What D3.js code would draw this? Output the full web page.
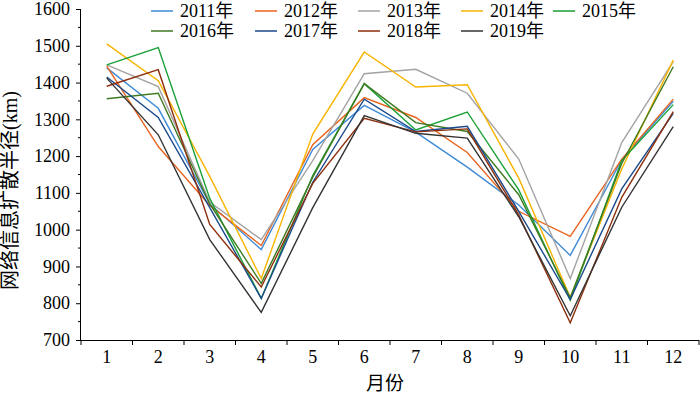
<!DOCTYPE html>
<html><head><meta charset="utf-8">
<script src="https://cdn.jsdelivr.net/npm/d3@7"></script>
<style>
body{margin:0;background:#fff;}
text{font-family:"Liberation Serif","Times New Roman","Noto Sans CJK SC",serif;fill:#000;}
</style></head>
<body><svg id="c" width="700" height="396"></svg>
<script>
const months = ["1","2","3","4","5","6","7","8","9","10","11","12"];
const yTicks = [700,800,900,1000,1100,1200,1300,1400,1500,1600];
const seriesNames = ["2011年","2012年","2013年","2014年","2015年","2016年","2017年","2018年","2019年"];
const colors = ["#3f8ad6","#e8641e","#a3a3a3","#f8b400","#17a035","#3e7a22","#1b4a8c","#8e2f0c","#333333"];
const v2011 = [1440,1330,1070,946,1218,1338,1265,1170,1067,930,1190,1349];
const v2012 = [1445,1226,1066,957,1231,1359,1305,1210,1050,982,1192,1355];
const v2013 = [1448,1389,1075,973,1188,1424,1436,1371,1192,867,1237,1457];
const v2014 = [1505,1405,1145,867,1260,1483,1388,1394,1140,816,1165,1461];
const v2015 = [1448,1495,1085,813,1147,1397,1271,1320,1108,808,1188,1340];
const v2016 = [1356,1371,1070,854,1143,1397,1291,1267,1095,815,1180,1443];
const v2017 = [1415,1305,1060,813,1129,1355,1267,1281,1050,810,1111,1316];
const v2018 = [1390,1435,1014,844,1126,1303,1266,1274,1040,747,1088,1321];
const v2019 = [1412,1258,973,775,1060,1310,1262,1249,1035,766,1061,1280];
const allValues = [v2011,v2012,v2013,v2014,v2015,v2016,v2017,v2018,v2019];

const svg = d3.select("#c");
const L=81, R=699, T=9, B=340;
const x = d3.scaleBand().domain(months).range([L,R]);
const y = d3.scaleLinear().domain([700,1600]).range([B,T]);

// lines
const line = d3.line().x((d,i)=>x(months[i])+x.bandwidth()/2).y(d=>y(d));
allValues.forEach((vals,k)=>{
  svg.append("path").datum(vals).attr("d",line).attr("fill","none")
    .attr("stroke",colors[k]).attr("stroke-width",1.4).attr("stroke-linejoin","miter");
});

// axes
const yAxis = d3.axisLeft(y).tickValues(yTicks).tickSize(5).tickPadding(6).tickFormat(d3.format("d"));
const gy = svg.append("g").attr("transform",`translate(${L},0)`).call(yAxis);
gy.selectAll("text").style("font-size","18px");
// minor ticks
const minor = d3.range(750,1600,100);
svg.append("g").selectAll("line").data(minor).join("line")
  .attr("x1",L-3).attr("x2",L).attr("y1",d=>y(d)).attr("y2",d=>y(d)).attr("stroke","#000");

const xAxis = d3.axisBottom(x).tickSize(0).tickPadding(10);
const gx = svg.append("g").attr("transform",`translate(0,${B})`).call(xAxis);
gx.selectAll("text").style("font-size","18px");
// boundary ticks
const bounds = d3.range(0,13).map(i=>L+i*x.step());
svg.append("g").selectAll("line").data(bounds).join("line")
  .attr("x1",d=>d).attr("x2",d=>d).attr("y1",B).attr("y2",B+5).attr("stroke","#000");
svg.selectAll(".domain").attr("stroke","#000");
gx.select(".domain").attr("d",`M${L},0.5H${R}`);
gy.select(".domain").attr("d",`M-0.5,${B}V${T}`);

// axis titles
svg.append("text").attr("x",385).attr("y",390).attr("text-anchor","middle")
  .style("font-size","19px").style("font-family","'Noto Sans CJK SC',sans-serif").text("月份");
svg.append("text").attr("transform","translate(17,"+((T+B)/2+16)+") rotate(-90)")
  .attr("text-anchor","middle").style("font-size","20px")
  .text("网络信息扩散半径(km)");

// legend
const legPos = [[151,11],[255,11],[358,11],[461,11],[553,11],[151,31],[255,31],[358,31],[461,31]];
seriesNames.forEach((n,k)=>{
  const [lx,ly]=legPos[k];
  svg.append("line").attr("x1",lx).attr("x2",lx+22).attr("y1",ly).attr("y2",ly)
    .attr("stroke",colors[k]).attr("stroke-width",2).attr("opacity",0.75);
  svg.append("text").attr("x",lx+29).attr("y",ly+6).style("font-size","18px").text(n);
});
</script></body></html>
